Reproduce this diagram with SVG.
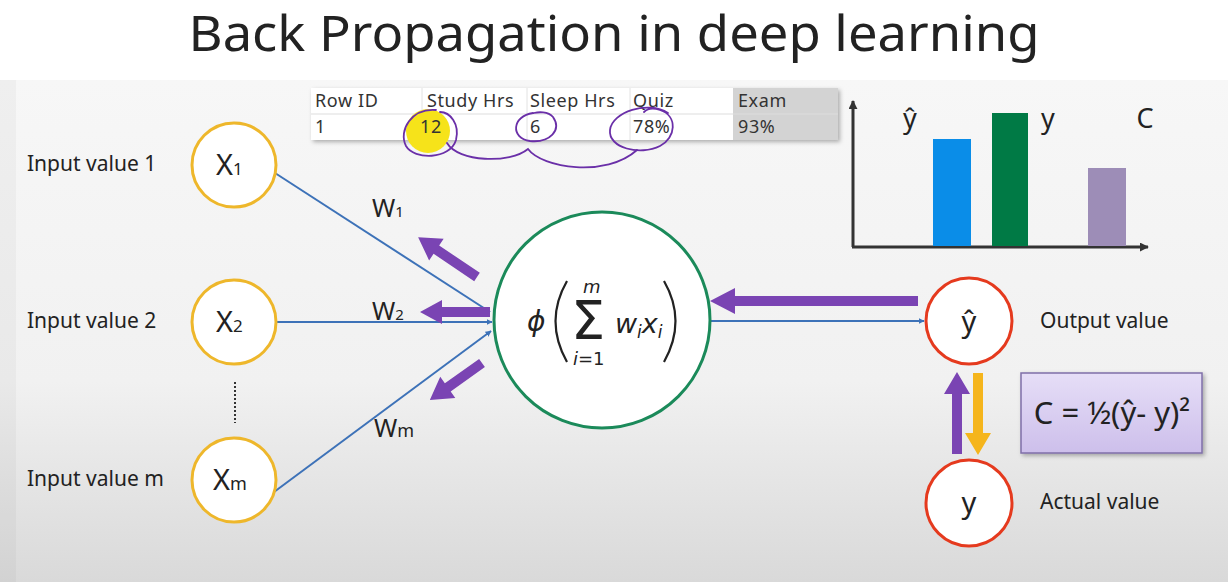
<svg xmlns="http://www.w3.org/2000/svg" width="1228" height="582" viewBox="0 0 1228 582">
<defs>
<linearGradient id="bg" x1="0" y1="0" x2="0" y2="1">
<stop offset="0" stop-color="#f7f7f7"/>
<stop offset="0.6" stop-color="#f1f1f1"/>
<stop offset="1" stop-color="#d9d9d9"/>
</linearGradient>
<linearGradient id="box" x1="0" y1="0" x2="0" y2="1">
<stop offset="0" stop-color="#e6def7"/>
<stop offset="1" stop-color="#cdbfeb"/>
</linearGradient>
<marker id="bl" viewBox="0 0 10 10" refX="9" refY="5" markerWidth="6" markerHeight="6" orient="auto-start-reverse" markerUnits="userSpaceOnUse">
<path d="M0 0 L10 5 L0 10 z" fill="#3d72b8"/>
</marker>
<marker id="ax" viewBox="0 0 10 10" refX="9" refY="5" markerWidth="9" markerHeight="9" orient="auto" markerUnits="userSpaceOnUse">
<path d="M0 0 L10 5 L0 10 z" fill="#333"/>
</marker>
<filter id="sh" x="-5%" y="-10%" width="112%" height="130%">
<feDropShadow dx="2" dy="2" stdDeviation="2" flood-color="#000" flood-opacity="0.3"/>
</filter>
</defs>
<style>
.t{font-family:"Noto Sans","Open Sans",sans-serif;fill:#222}
.lbl{font-size:21px}
.tab{font-size:18px;fill:#333;letter-spacing:0.6px}
.inC{fill:#fff;stroke:#eeb72b;stroke-width:3}
.outC{fill:#fff;stroke:#e53a1e;stroke-width:3}
.blue{stroke:#3d72b8;stroke-width:2;fill:none}
.pur{fill:#7a44b3}
.ora{fill:#f5b51c}
.hand{fill:none;stroke:#6a2fa8;stroke-width:1.8;stroke-linecap:round}
.m{font-family:"DejaVu Sans",sans-serif;fill:#222;font-style:italic}
</style>

<rect x="0" y="0" width="1228" height="582" fill="#ffffff"/>
<rect x="0" y="80" width="1228" height="502" fill="url(#bg)"/>
<rect x="0" y="80" width="16" height="502" fill="#000" opacity="0.03"/>

<text class="t" x="614" y="51" text-anchor="middle" font-size="50" fill="#111" textLength="851" lengthAdjust="spacingAndGlyphs">Back Propagation in deep learning</text>

<g id="table">
<rect x="311" y="88" width="527" height="52" fill="#fff" filter="url(#sh)"/>
<rect x="733" y="88" width="105" height="52" fill="#d3d3d3"/>
<line x1="311" y1="114" x2="838" y2="114" stroke="#ddd" stroke-width="1"/>
<g stroke="#e2e2e2" stroke-width="1">
<line x1="422" y1="88" x2="422" y2="140"/>
<line x1="527" y1="88" x2="527" y2="140"/>
<line x1="630" y1="88" x2="630" y2="140"/>
</g>
<circle cx="428" cy="131" r="22" fill="#f6e31a"/>
<text class="t tab" x="315" y="107">Row ID</text>
<text class="t tab" x="427" y="107">Study Hrs</text>
<text class="t tab" x="530" y="107">Sleep Hrs</text>
<text class="t tab" x="633" y="107">Quiz</text>
<text class="t tab" x="738" y="107">Exam</text>
<text class="t tab" x="315" y="133">1</text>
<text class="t tab" x="420" y="133" fill="#2a2a7a">12</text>
<text class="t tab" x="530" y="133">6</text>
<text class="t tab" x="633" y="133">78%</text>
<text class="t tab" x="738" y="133">93%</text>
<path class="hand" d="M 436 110 C 412 108 398 130 406 146 C 414 160 450 160 456 140 C 460 124 450 112 440 112"/>
<path class="hand" d="M 533 113 C 512 116 510 138 530 141 C 550 143 562 130 553 117 C 548 111 538 112 534 113"/>
<path class="hand" d="M 668 113 C 648 100 612 112 610 130 C 608 148 640 156 660 146 C 676 138 678 116 660 110 C 654 108 648 108 644 112"/>
<path class="hand" d="M 447 143 C 458 162 510 164 528 149 C 542 168 606 178 637 150"/>
</g>

<g id="chart">
<line x1="853" y1="247" x2="853" y2="101" stroke="#333" stroke-width="3" marker-end="url(#ax)"/>
<line x1="852" y1="247" x2="1148" y2="247" stroke="#333" stroke-width="3" marker-end="url(#ax)"/>
<rect x="933" y="139" width="38" height="107" fill="#0a8de8"/>
<rect x="992" y="113" width="36" height="133" fill="#007a45"/>
<rect x="1088" y="168" width="38" height="78" fill="#9d8db7"/>
<text class="t" x="910" y="128" font-size="27" text-anchor="middle">ŷ</text>
<text class="t" x="1048" y="128" font-size="27" text-anchor="middle">y</text>
<text class="t" x="1145" y="128" font-size="27" text-anchor="middle">C</text>
</g>

<g id="connectors">
<line class="blue" x1="275" y1="173" x2="490" y2="312" marker-end="url(#bl)"/>
<line class="blue" x1="276" y1="322" x2="492" y2="322" marker-end="url(#bl)"/>
<line class="blue" x1="274" y1="492" x2="491" y2="331" marker-end="url(#bl)"/>
<line class="blue" x1="711" y1="321" x2="924" y2="321" marker-end="url(#bl)"/>
<line x1="235" y1="382" x2="235" y2="423" stroke="#333" stroke-width="2" stroke-dasharray="2 2"/>
<path class="pur" transform="translate(477 277) rotate(214)" d="M0 -5 L49 -5 L49 -13 L71 0 L49 13 L49 5 L0 5 Z"/>
<path class="pur" transform="translate(490 312) rotate(180)" d="M0 -5 L48 -5 L48 -12 L70 0 L48 12 L48 5 L0 5 Z"/>
<path class="pur" transform="translate(482 363) rotate(144.6)" d="M0 -5 L42 -5 L42 -13 L64 0 L42 13 L42 5 L0 5 Z"/>
<path class="pur" transform="translate(918 301) rotate(180)" d="M0 -5 L183 -5 L183 -13 L208 0 L183 13 L183 5 L0 5 Z"/>
<path class="pur" transform="translate(957 454) rotate(-90)" d="M0 -5 L60 -5 L60 -13 L82 0 L60 13 L60 5 L0 5 Z"/>
<path class="ora" transform="translate(978 373) rotate(90)" d="M0 -5 L60 -5 L60 -13 L82 0 L60 13 L60 5 L0 5 Z"/>
<text class="t" x="372" y="217" font-size="25">W<tspan font-size="15">1</tspan></text>
<text class="t" x="372" y="320" font-size="25">W<tspan font-size="15">2</tspan></text>
<text class="t" x="374" y="437" font-size="25">W<tspan font-size="18">m</tspan></text>
</g>

<g id="x1">
<circle class="inC" cx="234" cy="165" r="42"/>
<text class="t" x="216" y="175" font-size="29">X<tspan font-size="17">1</tspan></text>
<text class="t lbl" x="27" y="171">Input value 1</text>
</g>
<g id="x2">
<circle class="inC" cx="234" cy="322" r="42"/>
<text class="t" x="216" y="332" font-size="29">X<tspan font-size="17">2</tspan></text>
<text class="t lbl" x="27" y="328">Input value 2</text>
</g>
<g id="xm">
<circle class="inC" cx="234" cy="480" r="42"/>
<text class="t" x="213" y="490" font-size="29">X<tspan font-size="18">m</tspan></text>
<text class="t lbl" x="27" y="486">Input value m</text>
</g>

<g id="neuron">
<circle cx="602" cy="320" r="108" fill="#fff" stroke="#1b8a5a" stroke-width="3"/>
<text class="m" x="527" y="331" font-size="28">ϕ</text>
<path d="M 567 281 Q 544 321 567 362" fill="none" stroke="#222" stroke-width="2.2"/>
<text x="571" y="339" font-family="DejaVu Sans,sans-serif" font-size="54" fill="#222">Σ</text>
<text class="m" x="583" y="293" font-size="18">m</text>
<text class="m" x="573" y="365" font-size="18">i<tspan font-style="normal">=1</tspan></text>
<text class="m" x="615" y="333" font-size="27">w<tspan font-size="17" dy="5">i</tspan><tspan dy="-5">x</tspan><tspan font-size="17" dy="5">i</tspan></text>
<path d="M 664 281 Q 687 321 664 362" fill="none" stroke="#222" stroke-width="2.2"/>
</g>

<g id="yhat">
<circle class="outC" cx="969" cy="321" r="43"/>
<text class="t" x="969" y="332" font-size="29" text-anchor="middle">ŷ</text>
<text class="t lbl" x="1040" y="328">Output value</text>
</g>
<g id="y">
<circle class="outC" cx="969" cy="503" r="43"/>
<text class="t" x="969" y="513" font-size="29" text-anchor="middle">y</text>
<text class="t lbl" x="1040" y="509">Actual value</text>
</g>

<g id="cost">
<rect x="1021" y="373" width="181" height="80" fill="url(#box)" stroke="#7f6fa8" stroke-width="1.5" filter="url(#sh)"/>
<text class="t" x="1112" y="424" font-size="31" text-anchor="middle">C = ½(ŷ- y)²</text>
</g>
</svg>
